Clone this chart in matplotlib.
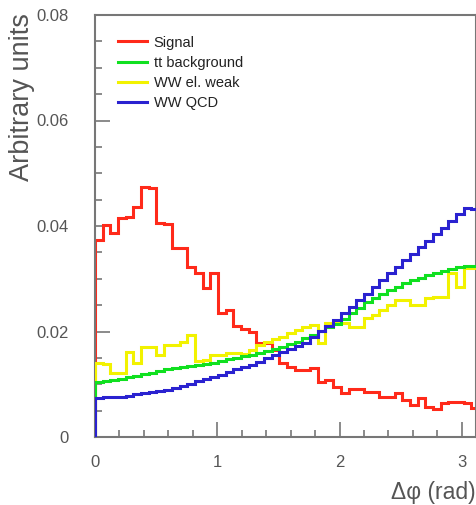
import numpy as np
import matplotlib
matplotlib.use("Agg")
import matplotlib.pyplot as plt
from matplotlib.ticker import MultipleLocator

plt.rcParams['font.family'] = ['Liberation Sans', 'DejaVu Sans']

# 50 bins in delta phi, 0 .. pi
n_bins = 50
edges = np.linspace(0, np.pi, n_bins + 1)

signal = [0.0373, 0.0402, 0.0387, 0.0415, 0.0418, 0.0436, 0.0474, 0.0472, 0.0406, 0.0404,
          0.0358, 0.0358, 0.0322, 0.0310, 0.0282, 0.0310, 0.0235, 0.0240, 0.0210, 0.0205,
          0.0199, 0.0178, 0.0178, 0.0165, 0.0140, 0.0133, 0.0127, 0.0127, 0.0130, 0.0104,
          0.0108, 0.0095, 0.0083, 0.0091, 0.0091, 0.0085, 0.0085, 0.0076, 0.0076, 0.0083,
          0.0070, 0.0061, 0.0074, 0.0057, 0.0053, 0.0064, 0.0066, 0.0066, 0.0064, 0.0055]

ttbar = [0.0104, 0.0106, 0.0108, 0.0110, 0.0113, 0.0116, 0.0119, 0.0122, 0.0125, 0.0128,
         0.0130, 0.0132, 0.0134, 0.0136, 0.0138, 0.0141, 0.0144, 0.0147, 0.0150, 0.0153,
         0.0156, 0.0159, 0.0163, 0.0167, 0.0171, 0.0176, 0.0181, 0.0187, 0.0194, 0.0201,
         0.0208, 0.0215, 0.0223, 0.0235, 0.0245, 0.0255, 0.0263, 0.0271, 0.0278, 0.0285,
         0.0291, 0.0297, 0.0302, 0.0307, 0.0311, 0.0315, 0.0319, 0.0322, 0.0324, 0.0325]

ww_ew = [0.0140, 0.0138, 0.0121, 0.0121, 0.0161, 0.0140, 0.0171, 0.0171, 0.0155, 0.0174,
         0.0174, 0.0180, 0.0193, 0.0145, 0.0146, 0.0155, 0.0155, 0.0160, 0.0160, 0.0158,
         0.0165, 0.0175, 0.0180, 0.0185, 0.0190, 0.0197, 0.0203, 0.0209, 0.0212, 0.0178,
         0.0216, 0.0216, 0.0216, 0.0209, 0.0209, 0.0226, 0.0231, 0.0240, 0.0250, 0.0260,
         0.0260, 0.0250, 0.0250, 0.0263, 0.0265, 0.0265, 0.0310, 0.0284, 0.0320, 0.0320]

ww_qcd = [0.0074, 0.0075, 0.0076, 0.0076, 0.0078, 0.0081, 0.0083, 0.0086, 0.0088, 0.0090,
          0.0093, 0.0096, 0.0101, 0.0106, 0.0110, 0.0113, 0.0118, 0.0123, 0.0128, 0.0133,
          0.0137, 0.0143, 0.0150, 0.0156, 0.0161, 0.0166, 0.0172, 0.0178, 0.0190, 0.0201,
          0.0211, 0.0222, 0.0235, 0.0247, 0.0260, 0.0272, 0.0285, 0.0297, 0.0310, 0.0322,
          0.0335, 0.0347, 0.0360, 0.0372, 0.0385, 0.0397, 0.0410, 0.0422, 0.0435, 0.0432]

labels = ["Signal", "tt background", "WW el. weak", "WW QCD"]
colors = ["#ff2a1a", "#10e020", "#f2f200", "#2a22d0"]

fig = plt.figure(figsize=(4.77, 5.05), dpi=100)
ax = fig.add_axes([95 / 477, 68 / 505, 381.5 / 477, 422 / 505])

series = [signal, ttbar, ww_ew, ww_qcd]
zorders = [2, 4, 3, 5]
for vals, lab, col, z in zip(series, labels, colors, zorders):
    ax.stairs(vals, edges, baseline=0, color=col, lw=2.2, label=lab, zorder=z)

ax.set_xlim(0, 3.12)
ax.set_ylim(0, 0.08)

ax.xaxis.set_major_locator(MultipleLocator(1))
ax.xaxis.set_minor_locator(MultipleLocator(0.2))
ax.yaxis.set_major_locator(MultipleLocator(0.02))
ax.yaxis.set_minor_locator(MultipleLocator(0.005))
ax.set_yticks([0, 0.02, 0.04, 0.06, 0.08])
ax.set_yticklabels(["0", "0.02", "0.04", "0.06", "0.08"])

gray = "#777777"
txt = "#555555"
ax.tick_params(which="both", direction="in", colors=gray, labelcolor=txt,
               labelsize=12, width=1.2)
ax.tick_params(which="major", length=11)
ax.tick_params(which="minor", length=5)
ax.tick_params(axis="y", pad=19)
ax.tick_params(axis="x", pad=13)
for s in ax.spines.values():
    s.set_color(gray)
    s.set_linewidth(1.5)

fig.text(22 / 477, 1 - 13 / 505, "Arbitrary units", rotation=90, ha="center",
         va="top", fontsize=19.5, color=txt)
fig.text(0.997, 1 - 493 / 505, "\u0394\u03c6 (rad)", ha="right", va="center",
         fontsize=16.5, color=txt)

leg = ax.legend(loc="upper left", bbox_to_anchor=(0.045, 0.965), frameon=False,
                fontsize=10.5, handlelength=2.0, handletextpad=0.45,
                labelspacing=0.42, borderaxespad=0)
for t in leg.get_texts():
    t.set_color("#222222")

fig.savefig("out.png", dpi=100)
